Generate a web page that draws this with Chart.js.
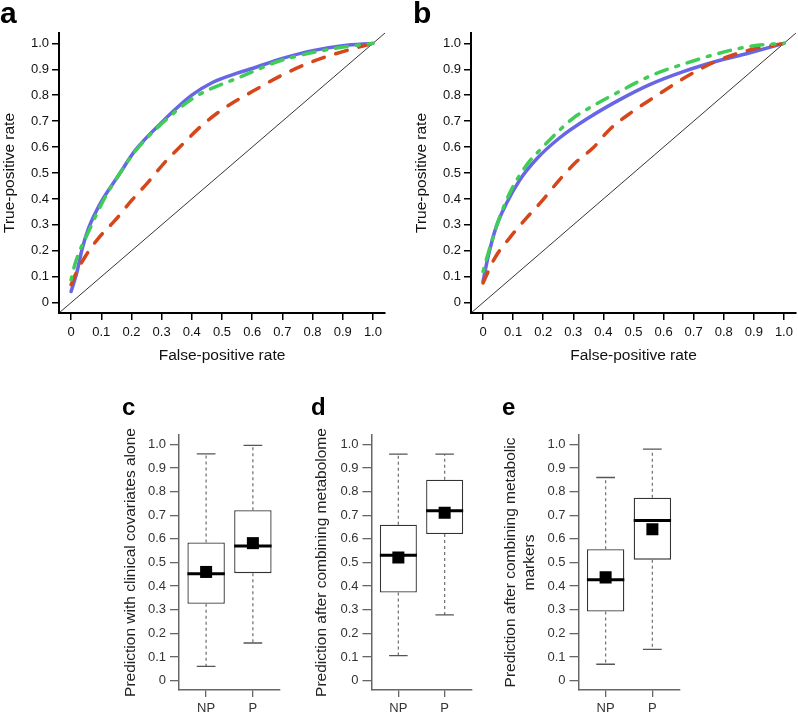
<!DOCTYPE html>
<html><head><meta charset="utf-8">
<script src="https://cdn.jsdelivr.net/npm/chart.js@4.4.1/dist/chart.umd.min.js"></script>
<style>
html,body{margin:0;padding:0;background:#fff;}
#fig{position:relative;width:798px;height:717px;overflow:hidden;font-family:"Liberation Sans",Arial,sans-serif;}
canvas{position:absolute;}
.lbl{position:absolute;font-weight:bold;color:#000;line-height:1;font-family:"Liberation Sans",Arial,sans-serif;}
</style></head><body>
<div id="fig">
<canvas id="ca" width="400" height="380" style="left:0;top:0"></canvas>
<canvas id="cb" width="398" height="380" style="left:400px;top:0"></canvas>
<canvas id="cc" width="190" height="337" style="left:100px;top:380px"></canvas>
<canvas id="cd" width="190" height="337" style="left:290px;top:380px"></canvas>
<canvas id="ce" width="210" height="337" style="left:480px;top:380px"></canvas>
<div class="lbl" style="left:0px;top:-2px;font-size:30px">a</div>
<div class="lbl" style="left:413px;top:-2px;font-size:30px">b</div>
<div class="lbl" style="left:122px;top:395px;font-size:24px">c</div>
<div class="lbl" style="left:311px;top:395px;font-size:24px">d</div>
<div class="lbl" style="left:502px;top:395px;font-size:24px">e</div>
</div>
<script>
// ---------- data ----------
const tickValues = [0, 0.1, 0.2, 0.3, 0.4, 0.5, 0.6, 0.7, 0.8, 0.9, 1.0];
const diagonal = [-0.04, 1.04];

// Panel a
const aBlueFpr = [0, 0.02, 0.036, 0.058, 0.097, 0.158, 0.213, 0.3, 0.4, 0.47, 0.55, 0.6, 0.7, 0.8, 0.9, 1.0];
const aBlueTpr = [0.043, 0.12, 0.204, 0.287, 0.383, 0.492, 0.588, 0.695, 0.8, 0.85, 0.885, 0.903, 0.942, 0.972, 0.991, 1.0];
const aGreenFpr = [0, 0.014, 0.058, 0.108, 0.169, 0.213, 0.3, 0.4, 0.45, 0.56, 0.69, 0.87, 1.0];
const aGreenTpr = [0.088, 0.153, 0.274, 0.396, 0.512, 0.585, 0.69, 0.785, 0.818, 0.87, 0.932, 0.98, 1.0];
const aRedFpr = [0, 0.014, 0.047, 0.091, 0.147, 0.202, 0.257, 0.312, 0.373, 0.43, 0.5, 0.6, 0.7, 0.8, 0.9, 1.0];
const aRedTpr = [0.069, 0.108, 0.178, 0.249, 0.319, 0.396, 0.467, 0.543, 0.615, 0.68, 0.744, 0.814, 0.878, 0.93, 0.968, 1.0];

// Panel b
const bBlueFpr = [0, 0.017, 0.044, 0.078, 0.122, 0.177, 0.254, 0.354, 0.453, 0.552, 0.663, 0.773, 0.884, 1.0];
const bBlueTpr = [0.082, 0.178, 0.293, 0.383, 0.473, 0.553, 0.635, 0.715, 0.782, 0.84, 0.89, 0.93, 0.963, 1.0];
const bGreenFpr = [0, 0.017, 0.05, 0.094, 0.149, 0.19, 0.254, 0.3, 0.343, 0.453, 0.563, 0.674, 0.785, 0.895, 1.0];
const bGreenTpr = [0.12, 0.19, 0.313, 0.435, 0.537, 0.59, 0.665, 0.712, 0.744, 0.814, 0.878, 0.923, 0.962, 0.99, 1.0];
const bRedFpr = [0, 0.039, 0.088, 0.144, 0.199, 0.249, 0.31, 0.365, 0.42, 0.497, 0.563, 0.674, 0.773, 0.884, 1.0];
const bRedTpr = [0.076, 0.172, 0.249, 0.326, 0.396, 0.467, 0.543, 0.596, 0.667, 0.737, 0.788, 0.87, 0.93, 0.974, 1.0];

// Box plots (NP, P)
const groups = ['NP', 'P'];
const groupPos = [1, 2];
const cMin = [0.06, 0.159],  cQ1 = [0.325, 0.455], cMed = [0.452, 0.57],  cQ3 = [0.585, 0.721], cMax = [0.96, 0.996],  cMean = [0.46, 0.582];
const dMin = [0.106, 0.278], dQ1 = [0.373, 0.621], dMed = [0.531, 0.719], dQ3 = [0.66, 0.851],  dMax = [0.959, 0.959], dMean = [0.521, 0.711];
const eMin = [0.069, 0.132], eQ1 = [0.292, 0.512], eMed = [0.427, 0.678], eQ3 = [0.556, 0.774], eMax = [0.86, 0.98],   eMean = [0.437, 0.641];

// ---------- helpers ----------
const BLUE = '#6767e6', GREEN = '#3fcc57', RED = '#d5461b';
Chart.defaults.font.family = '"Liberation Sans", Arial, sans-serif';
const xy = (xs, ys) => xs.map((x, i) => ({x, y: ys[i]}));
const fmt = v => (Math.abs(v) < 1e-9 ? '0' : Number(v).toFixed(1));

function rocChart(id, blue, green, red, L) {
  const line = (data, color, dash, order) => ({
    data, borderColor: color, borderWidth: 3.5, borderDash: dash, borderCapStyle: 'round',
    pointRadius: 0, cubicInterpolationMode: 'monotone', fill: false, order
  });
  return new Chart(document.getElementById(id), {
    type: 'line',
    data: {datasets: [
      {data: xy(diagonal, diagonal), borderColor: '#000', borderWidth: 0.8, pointRadius: 0, tension: 0, order: 3},
      line(blue, BLUE, [], 2),
      line(red, RED, [12, 12], 1),
      line(green, GREEN, [3, 9, 12, 9], 0)
    ]},
    options: {
      responsive: false, animation: false, events: [],
      layout: {padding: {left: 0, top: L.top, right: L.right, bottom: 0}},
      plugins: {legend: {display: false}, tooltip: {enabled: false}},
      scales: {
        x: {
          type: 'linear', min: -0.04, max: 1.04,
          afterBuildTicks: s => { s.ticks = tickValues.map(v => ({value: v})); },
          afterFit: s => { s.height = L.xh; },
          border: {display: true, color: '#000', width: 2},
          grid: {drawOnChartArea: false, drawTicks: true, tickLength: 7, color: '#000', lineWidth: 1.5},
          ticks: {autoSkip: false, maxRotation: 0, padding: 5, color: '#111', font: {size: 13}, callback: fmt},
          title: {display: true, text: 'False-positive rate', color: '#111', font: {size: 15.5}, padding: {top: 0, bottom: L.xtp}}
        },
        y: {
          type: 'linear', min: -0.04, max: 1.04,
          afterBuildTicks: s => { s.ticks = tickValues.map(v => ({value: v})); },
          afterFit: s => { s.width = L.yw; },
          border: {display: true, color: '#000', width: 2},
          grid: {drawOnChartArea: false, drawTicks: true, tickLength: 7, color: '#000', lineWidth: 1.5},
          ticks: {autoSkip: false, padding: 3, color: '#111', font: {size: 13}, callback: fmt},
          title: {display: true, text: 'True-positive rate', color: '#111', font: {size: 15.5}, padding: {top: L.ytp, bottom: 0}}
        }
      }
    }
  });
}

function boxChart(id, mn, q1, med, q3, mx, mean, title, L) {
  const boxes = [], whisk = [], caps = [], meds = [], means = [];
  groupPos.forEach((x, i) => {
    boxes.push({x, y: [q1[i], q3[i]]});
    whisk.push({x, y: q3[i]}, {x, y: mx[i]}, {x, y: null}, {x, y: q1[i]}, {x, y: mn[i]}, {x, y: null});
    caps.push({x: x - 0.2, y: mx[i]}, {x: x + 0.2, y: mx[i]}, {x, y: null},
              {x: x - 0.2, y: mn[i]}, {x: x + 0.2, y: mn[i]}, {x, y: null});
    meds.push({x: x - 0.4, y: med[i]}, {x: x + 0.4, y: med[i]}, {x, y: null});
    means.push({x, y: mean[i]});
  });
  return new Chart(document.getElementById(id), {
    type: 'bar',
    data: {datasets: [
      {type: 'bar', data: boxes, backgroundColor: '#fff', borderColor: '#333', borderWidth: 1.3,
       borderSkipped: false, barPercentage: 0.8, categoryPercentage: 1, order: 4},
      {type: 'line', data: whisk, borderColor: '#777', borderWidth: 1.3, borderDash: [3, 3], pointRadius: 0, spanGaps: false, order: 3},
      {type: 'line', data: caps, borderColor: '#555', borderWidth: 1.3, pointRadius: 0, spanGaps: false, order: 2},
      {type: 'line', data: meds, borderColor: '#000', borderWidth: 3, pointRadius: 0, spanGaps: false, order: 1},
      {type: 'line', data: means, showLine: false, pointStyle: 'rect', pointRadius: 8.5, pointBackgroundColor: '#000',
       pointBorderWidth: 0, order: 0}
    ]},
    options: {
      responsive: false, animation: false, events: [],
      layout: {padding: {left: 0, top: L.top, right: L.right, bottom: 0}},
      plugins: {legend: {display: false}, tooltip: {enabled: false}},
      scales: {
        x: {
          type: 'linear', min: 0.42, max: 2.58, offset: false,
          afterBuildTicks: s => { s.ticks = groupPos.map(v => ({value: v})); },
          afterFit: s => { s.height = L.xh; },
          border: {display: true, color: '#666', width: 1.5},
          grid: {offset: false, drawOnChartArea: false, drawTicks: true, tickLength: 7, color: '#666', lineWidth: 1.3},
          ticks: {autoSkip: false, maxRotation: 0, padding: 4, color: '#333', font: {size: 13},
                  callback: v => groups[groupPos.indexOf(v)] ?? ''}
        },
        y: {
          type: 'linear', min: -0.04, max: 1.04,
          afterBuildTicks: s => { s.ticks = tickValues.map(v => ({value: v})); },
          afterFit: s => { s.width = L.yw; },
          border: {display: true, color: '#666', width: 1.5},
          grid: {drawOnChartArea: false, drawTicks: true, tickLength: 9, color: '#666', lineWidth: 1.3},
          ticks: {autoSkip: false, padding: 4, color: '#333', font: {size: 13}, callback: fmt},
          title: {display: true, text: title, color: '#222', font: {size: 15.5, lineHeight: 1.22}, padding: {top: L.ytp, bottom: 0}}
        }
      }
    }
  });
}

rocChart('ca', xy(aBlueFpr, aBlueTpr), xy(aGreenFpr, aGreenTpr), xy(aRedFpr, aRedTpr),
         {top: 33, right: 15, yw: 59, xh: 67, xtp: 14.5, ytp: 0.5});
rocChart('cb', xy(bBlueFpr, bBlueTpr), xy(bGreenFpr, bGreenTpr), xy(bRedFpr, bRedTpr),
         {top: 33, right: 1, yw: 71, xh: 67, xtp: 14.5, ytp: 12.4});
boxChart('cc', cMin, cQ1, cMed, cQ3, cMax, cMean, 'Prediction with clinical covariates alone',
         {top: 55, right: 10, yw: 79, xh: 27, ytp: 21.5});
boxChart('cd', dMin, dQ1, dMed, dQ3, dMax, dMean, 'Prediction after combining metabolome',
         {top: 55, right: 7.5, yw: 81.5, xh: 27, ytp: 22.2});
boxChart('ce', eMin, eQ1, eMed, eQ3, eMax, eMean, ['Prediction after combining metabolic', 'markers'],
         {top: 55, right: 10.5, yw: 98.5, xh: 27, ytp: 21.5});
</script>
</body></html>
